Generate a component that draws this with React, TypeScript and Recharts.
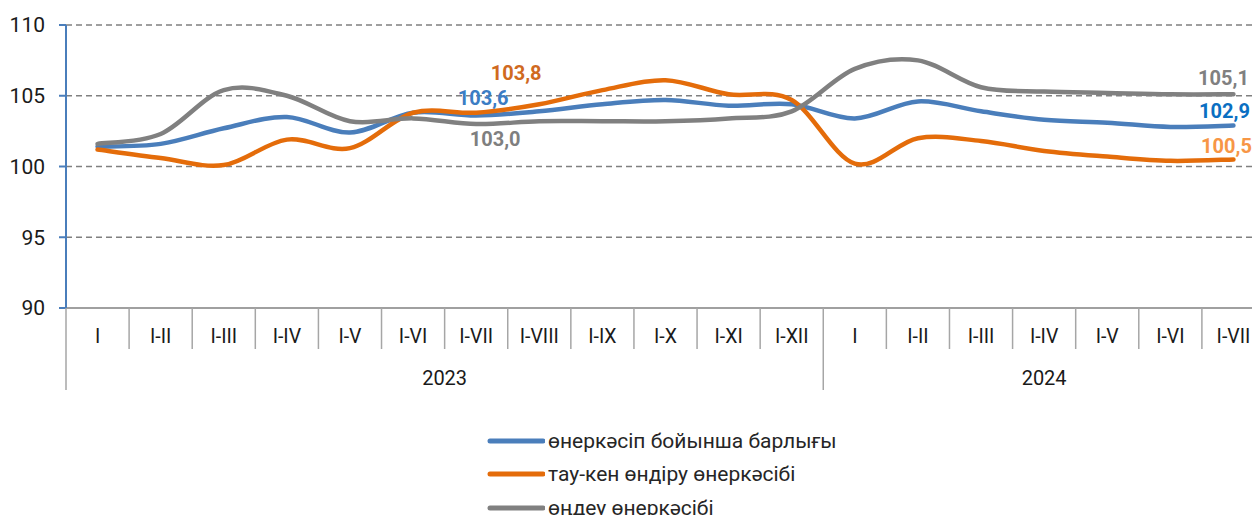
import React from 'react';
import { LineChart, Line, XAxis, YAxis, CartesianGrid, Legend, LabelList } from 'recharts';

// ---- data ----
const periods = ['I', 'I-II', 'I-III', 'I-IV', 'I-V', 'I-VI', 'I-VII', 'I-VIII', 'I-IX', 'I-X', 'I-XI', 'I-XII',
  'I', 'I-II', 'I-III', 'I-IV', 'I-V', 'I-VI', 'I-VII'];
const periodYears = ['2023', '2023', '2023', '2023', '2023', '2023', '2023', '2023', '2023', '2023', '2023', '2023',
  '2024', '2024', '2024', '2024', '2024', '2024', '2024'];
const totalIndustry = [101.4, 101.6, 102.7, 103.5, 102.4, 103.8, 103.6, 103.9, 104.4, 104.7, 104.3, 104.4,
  103.4, 104.6, 103.9, 103.3, 103.1, 102.8, 102.9];
const mining = [101.2, 100.6, 100.1, 101.9, 101.3, 103.8, 103.8, 104.4, 105.4, 106.1, 105.1, 104.7,
  100.2, 102.0, 101.8, 101.1, 100.7, 100.4, 100.5];
const manufacturing = [101.6, 102.3, 105.4, 105.0, 103.2, 103.4, 103.0, 103.2, 103.2, 103.2, 103.4, 103.9,
  106.9, 107.5, 105.6, 105.3, 105.2, 105.1, 105.1];
const yTicks = [90, 95, 100, 105, 110];
const seriesNames = ['өнеркәсіп бойынша барлығы', 'тау-кен өндіру өнеркәсібі', 'өңдеу өнеркәсібі'];

const data = periods.map((p, i) => ({
  key: `${periodYears[i]}-${p}`,
  total: totalIndustry[i],
  mining: mining[i],
  manuf: manufacturing[i],
}));

// ---- styles ----
const COLORS = { total: '#4a7ebb', mining: '#e46c0a', manuf: '#808080' };

const labelCfg: Record<string, { index: number; dx: number; dy: number; color: string }[]> = {
  total: [
    { index: 6, dx: 7, dy: -18, color: '#3c7dc4' },
    { index: 18, dx: -9, dy: -14, color: '#0a6fc2' },
  ],
  mining: [
    { index: 6, dx: 40, dy: -40, color: '#d06a1f' },
    { index: 18, dx: -7, dy: -13, color: '#f79646' },
  ],
  manuf: [
    { index: 6, dx: 19, dy: 15, color: '#7f7f7f' },
    { index: 18, dx: -10, dy: -16, color: '#808080' },
  ],
};

const fmt = (v: number) => v.toFixed(1).replace('.', ',');

const makeLabel = (series: string) => (props: any) => {
  const { x, y, value, index } = props;
  const cfg = labelCfg[series].find((c) => c.index === index);
  if (!cfg || x == null || y == null) return null;
  return (
    <text x={x + cfg.dx} y={y + cfg.dy + 7} textAnchor="middle" fontSize={20} fontWeight={700} fill={cfg.color}>
      {fmt(Number(value))}
    </text>
  );
};

// Excel-like smoothed line (Catmull-Rom as cubic Bezier)
const excelCurve: any = (context: any) => {
  let pts: number[][] = [];
  return {
    areaStart() {},
    areaEnd() {},
    lineStart() {
      pts = [];
    },
    point(x: number, y: number) {
      pts.push([+x, +y]);
    },
    lineEnd() {
      const n = pts.length;
      if (!n) return;
      context.moveTo(pts[0][0], pts[0][1]);
      for (let i = 0; i < n - 1; i++) {
        const p0 = pts[Math.max(0, i - 1)];
        const p1 = pts[i];
        const p2 = pts[i + 1];
        const p3 = pts[Math.min(n - 1, i + 2)];
        context.bezierCurveTo(
          p1[0] + (p2[0] - p0[0]) / 6,
          p1[1] + (p2[1] - p0[1]) / 6,
          p2[0] - (p3[0] - p1[0]) / 6,
          p2[1] - (p3[1] - p1[1]) / 6,
          p2[0],
          p2[1]
        );
      }
    },
  };
};

const SEP = '#a6a6a6';

const MonthTick = (props: any) => {
  const { x, y, payload, index } = props;
  const half = payload && payload.offset ? payload.offset : 31.55;
  const bw = half * 2;
  const left = x - half;
  const isGroupStart = index === 0 || periodYears[index] !== periodYears[index - 1];
  const isLast = index === periods.length - 1;
  let yearLabel = null;
  if (isGroupStart) {
    const count = periodYears.filter((yy) => yy === periodYears[index]).length;
    yearLabel = (
      <text x={left + (count * bw) / 2} y={y + 77} textAnchor="middle" fontSize={20} fill="#1a1a1a">
        {periodYears[index]}
      </text>
    );
  }
  return (
    <g>
      <line x1={left} y1={y} x2={left} y2={y + (isGroupStart ? 82 : 41)} stroke={SEP} strokeWidth={1.5} />
      {isLast && <line x1={left + bw} y1={y} x2={left + bw} y2={y + 82} stroke={SEP} strokeWidth={1.5} />}
      <text x={x} y={y + 35} textAnchor="middle" fontSize={19.5} fill="#1a1a1a">
        {periods[index]}
      </text>
      {yearLabel}
    </g>
  );
};

const renderLegend = (props: any) => {
  const items = [...(props.payload || [])].sort(
    (a: any, b: any) => seriesNames.indexOf(a.value) - seriesNames.indexOf(b.value)
  );
  return (
    <div style={{ display: 'flex', flexDirection: 'column' }}>
      {items.map((p: any) => (
        <div key={p.value} style={{ display: 'flex', alignItems: 'center', height: 33.5 }}>
          <svg width={58} height={10} style={{ display: 'block' }}>
            <line x1={3} y1={5} x2={56} y2={5} stroke={p.color} strokeWidth={5} strokeLinecap="round" />
          </svg>
          <span style={{ fontSize: 21, color: '#262626', marginLeft: 3, whiteSpace: 'nowrap', lineHeight: '22px' }}>
            {p.value}
          </span>
        </div>
      ))}
    </div>
  );
};

export default function App() {
  return (
    <div
      style={{
        position: 'absolute',
        left: 0,
        top: 0,
        width: 1252,
        height: 515,
        overflow: 'hidden',
        background: '#fff',
        fontFamily: 'Roboto, "Noto Sans", sans-serif',
      }}
    >
      <LineChart width={1270} height={515} data={data} margin={{ top: 25, right: 5, left: 0, bottom: 0 }}>
        <CartesianGrid vertical={false} stroke="#808080" strokeDasharray="6 4" strokeWidth={1.5} />
        <XAxis
          dataKey="key"
          scale="band"
          interval={0}
          height={207}
          tickSize={0}
          tickMargin={0}
          tickLine={false}
          axisLine={{ stroke: '#a0a0a0', strokeWidth: 2 }}
          tick={<MonthTick />}
        />
        <YAxis
          domain={[90, 110]}
          ticks={yTicks}
          width={66}
          tickSize={7}
          tickMargin={14}
          axisLine={{ stroke: '#4a7ebb', strokeWidth: 2 }}
          tickLine={{ stroke: '#4a7ebb', strokeWidth: 2 }}
          tick={{ fontSize: 21, fill: '#1a1a1a' }}
          allowDataOverflow
        />
        <Legend
          layout="horizontal"
          verticalAlign="middle"
          align="center"
          wrapperStyle={{ top: 424, left: 487, width: 420, height: 100 }}
          content={renderLegend}
        />
        <Line
          name={seriesNames[0]}
          dataKey="total"
          type={excelCurve}
          stroke={COLORS.total}
          strokeWidth={4.5}
          strokeLinecap="round"
          dot={false}
          activeDot={false}
          isAnimationActive={false}
        >
          <LabelList dataKey="total" content={makeLabel('total')} />
        </Line>
        <Line
          name={seriesNames[1]}
          dataKey="mining"
          type={excelCurve}
          stroke={COLORS.mining}
          strokeWidth={4.5}
          strokeLinecap="round"
          dot={false}
          activeDot={false}
          isAnimationActive={false}
        >
          <LabelList dataKey="mining" content={makeLabel('mining')} />
        </Line>
        <Line
          name={seriesNames[2]}
          dataKey="manuf"
          type={excelCurve}
          stroke={COLORS.manuf}
          strokeWidth={4.5}
          strokeLinecap="round"
          dot={false}
          activeDot={false}
          isAnimationActive={false}
        >
          <LabelList dataKey="manuf" content={makeLabel('manuf')} />
        </Line>
      </LineChart>
    </div>
  );
}
